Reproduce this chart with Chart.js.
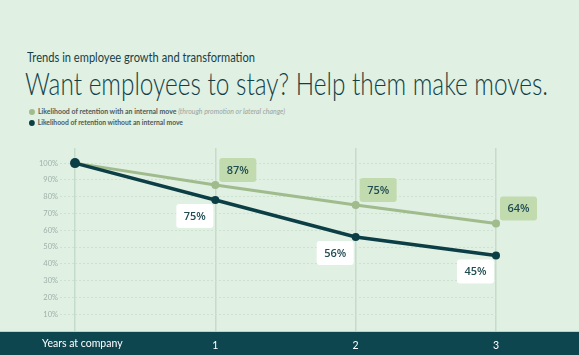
<!DOCTYPE html>
<html>
<head>
<meta charset="utf-8">
<script src="https://cdn.jsdelivr.net/npm/chart.js@4"></script>
<style>
  html, body { margin:0; padding:0; }
  body { width:579px; height:355px; background:#e0f0e3; position:relative; overflow:hidden; font-family:"Lato", "Open Sans", sans-serif; color:#123f46; }
  .fit { transform-origin: 0 50%; }
  #sub { position:absolute; left:27px; top:50px; font-size:12.5px; font-weight:400; color:#173f45; white-space:nowrap; }
  #head { position:absolute; left:25px; top:64px; font-size:31px; font-weight:300; color:#123f46; white-space:nowrap; }
  .leg { position:absolute; left:29px; font-size:7px; font-weight:700; color:#4f5a58; white-space:nowrap; }
  .leg i { display:inline-block; width:6px; height:6px; border-radius:50%; margin-right:3px; vertical-align:-0.5px; }
  .leg em { font-weight:400; color:#9aa49f; }
  #wrap { position:absolute; left:0; top:140px; width:579px; height:215px; }
  #xt { position:absolute; left:42px; top:337px; font-size:10.5px; color:#ffffff; z-index:2; white-space:nowrap; }
</style>
</head>
<body>
<div id="sub" class="fit" data-w="228">Trends in employee growth and transformation</div>
<div id="head" class="fit" data-w="523">Want employees to stay? Help them make moves.</div>
<div class="leg fit" data-w="256" style="top:107px"><i style="background:#a0bb8c"></i>Likelihood of retention with an internal move <em>(through promotion or lateral change)</em></div>
<div class="leg fit" data-w="154" style="top:118px"><i style="background:#0c3e46"></i>Likelihood of retention without an internal move</div>
<div id="wrap"><canvas id="c"></canvas></div>
<div id="xt">Years at company</div>
<script>
document.querySelectorAll('.fit').forEach(el => {
  const w = el.getBoundingClientRect().width;
  const target = parseFloat(el.dataset.w);
  el.style.transform = 'scaleX(' + (target / w) + ')';
});

const years = ["0", "1", "2", "3"];
const withMove = [100, 87, 75, 64];
const withoutMove = [100, 78, 56, 45];
const withMoveLabels = ["", "87%", "75%", "64%"];
const withoutMoveLabels = ["", "75%", "56%", "45%"];
const yTicks = [10, 20, 30, 40, 50, 60, 70, 80, 90, 100];

const bottomBar = {
  id: 'bottomBar',
  beforeDraw(chart) {
    const {ctx, chartArea, width, height} = chart;
    ctx.save();
    ctx.fillStyle = '#0e4650';
    ctx.fillRect(0, chartArea.bottom, width, height - chartArea.bottom);
    ctx.fillStyle = '#bcd3c2';
    ctx.fillRect(0, chartArea.bottom, width, 1);
    ctx.restore();
  }
};

const valueBoxes = {
  id: 'valueBoxes',
  afterDatasetsDraw(chart) {
    const ctx = chart.ctx;
    ctx.save();
    ctx.font = '600 11px "Open Sans", Lato, sans-serif';
    ctx.textAlign = 'center';
    ctx.textBaseline = 'middle';
    chart.data.datasets.forEach((ds, di) => {
      const meta = chart.getDatasetMeta(di);
      meta.data.forEach((pt, i) => {
        const txt = ds.boxLabels[i];
        if (!txt) return;
        const w = 37, h = 24;
        let x, y;
        if (ds.boxSide === 'up') { x = pt.x + 4; y = pt.y - 27; }
        else { x = pt.x - 39; y = pt.y + 4; }
        ctx.fillStyle = ds.boxBg;
        ctx.beginPath();
        ctx.roundRect(x, y, w, h, 3);
        ctx.fill();
        ctx.fillStyle = '#1f4b51';
        ctx.fillText(txt, x + w / 2, y + h / 2 + 0.5);
      });
    });
    ctx.restore();
  }
};

new Chart(document.getElementById('c'), {
  type: 'line',
  data: {
    labels: years,
    datasets: [
      {
        data: withoutMove,
        borderColor: '#0c3e46',
        backgroundColor: '#0c3e46',
        borderWidth: 3.5,
        pointRadius: [5, 4, 4, 4],
        pointBorderWidth: 0,
        tension: 0,
        boxLabels: withoutMoveLabels,
        boxSide: 'down',
        boxBg: '#ffffff'
      },
      {
        data: withMove,
        borderColor: '#a0bb8c',
        backgroundColor: '#a0bb8c',
        borderWidth: 3,
        pointRadius: 4,
        pointBorderWidth: 0,
        tension: 0,
        boxLabels: withMoveLabels,
        boxSide: 'up',
        boxBg: '#c2dbae'
      }
    ]
  },
  options: {
    responsive: true,
    maintainAspectRatio: false,
    animation: false,
    layout: { padding: { top: 8, right: 83, left: 0, bottom: 0 } },
    plugins: { legend: { display: false }, tooltip: { enabled: false } },
    scales: {
      x: {
        offset: false,
        grid: { color: '#c6dcca', lineWidth: 1.5, drawTicks: false },
        border: { display: false },
        ticks: {
          color: '#ffffff',
          padding: 8,
          font: { size: 10.5, family: 'Lato, "Open Sans", sans-serif' },
          callback: (v, i) => i === 0 ? '' : years[i]
        },
        afterFit: (s) => { s.height = 24; }
      },
      y: {
        min: 0,
        max: 109,
        afterBuildTicks: (s) => { s.ticks = yTicks.map(v => ({ value: v })); },
        afterFit: (s) => { s.width = 75; },
        grid: { color: '#cde1d0', lineWidth: 1, drawTicks: true, tickLength: 15, tickColor: '#cde1d0', tickBorderDash: [2, 2] },
        border: { display: false, dash: [2, 2] },
        ticks: {
          color: '#9fb0a8',
          padding: 2,
          font: { size: 7.5, family: 'Lato, "Open Sans", sans-serif' },
          callback: (v) => v + '%'
        }
      }
    }
  },
  plugins: [bottomBar, valueBoxes]
});
</script>
</body>
</html>
